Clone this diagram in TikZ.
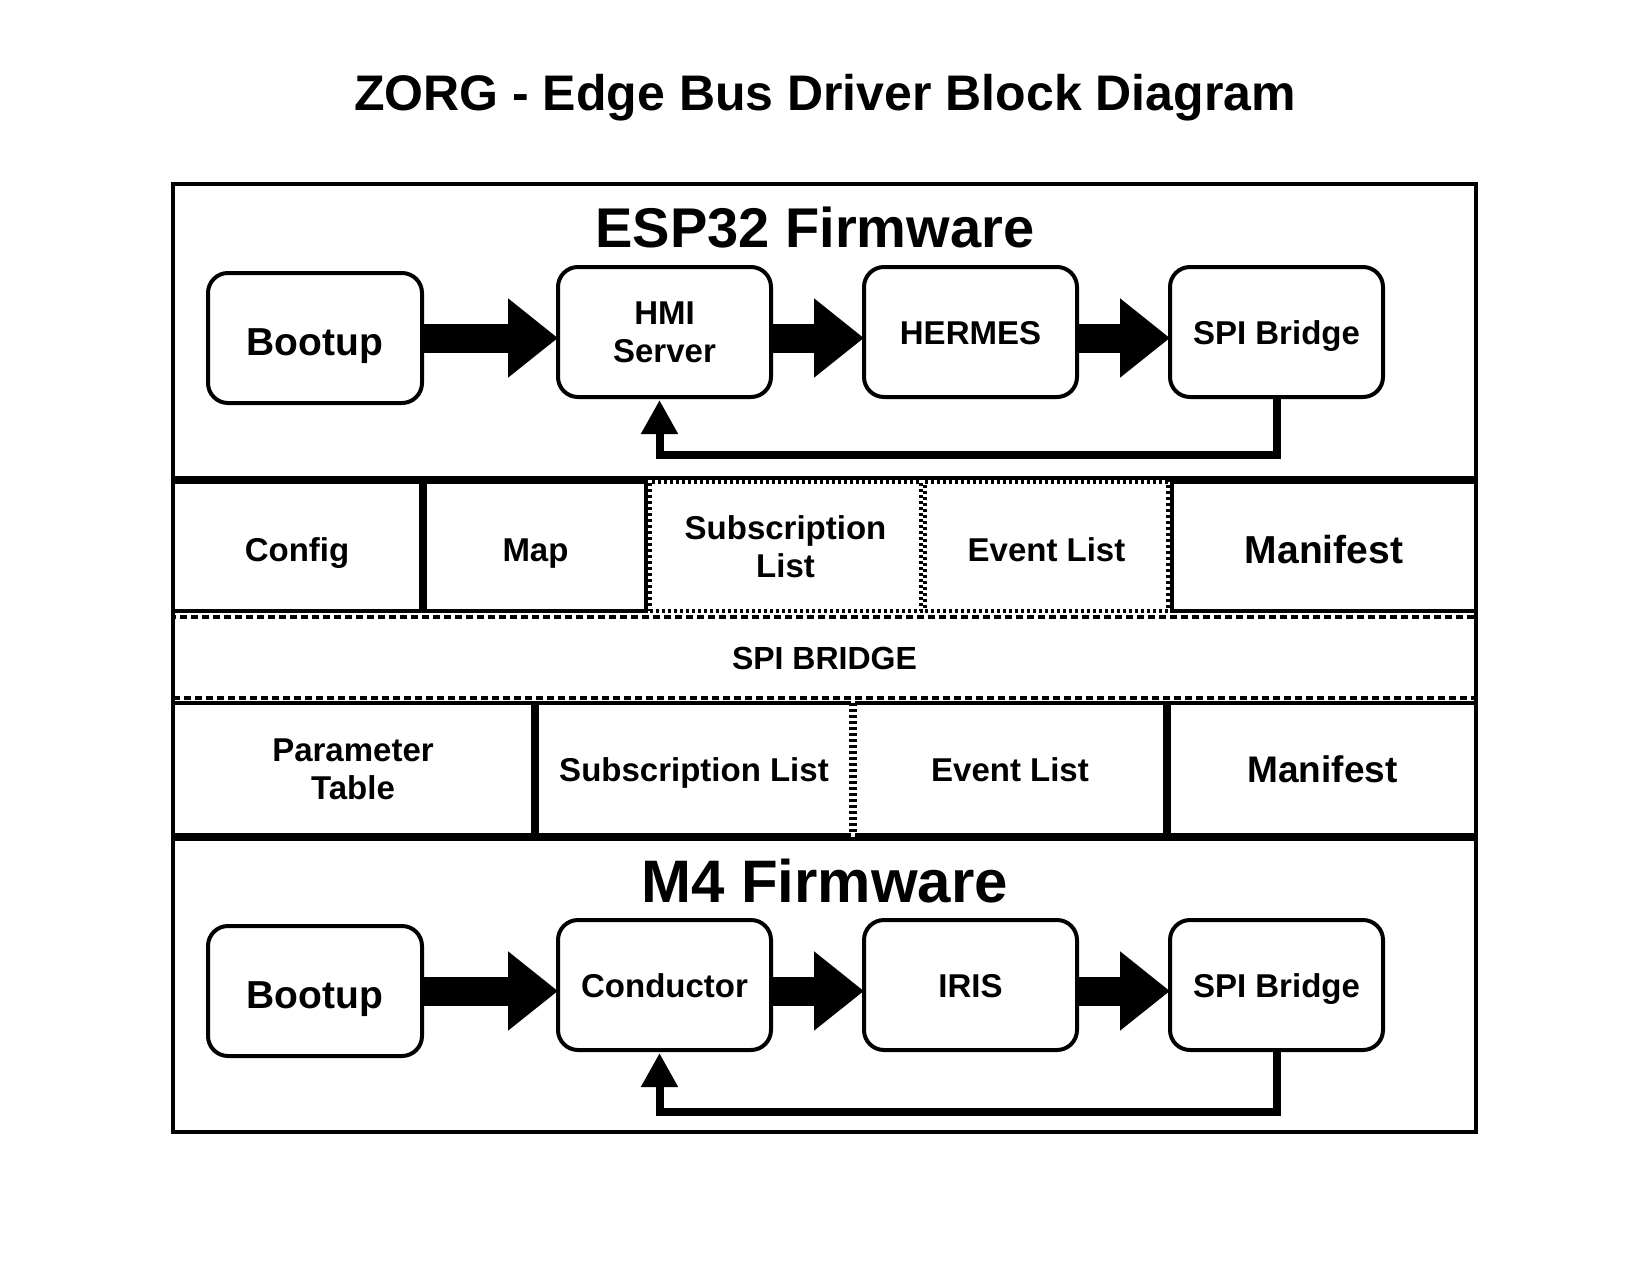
\documentclass[tikz,border=0pt]{standalone}
\usepackage{fontspec}
\setmainfont{Liberation Sans}
\usetikzlibrary{arrows.meta,calc}
\begin{document}
\begin{tikzpicture}[x=1pt,y=-1pt,
  rbox/.style={draw, line width=4pt, rounded corners=20pt, minimum width=213pt, minimum height=130pt, inner sep=0pt, outer sep=0pt, align=center, font=\fontsize{33}{38}\selectfont\bfseries},
  cell/.style={draw, line width=4pt, inner sep=0pt, outer sep=0pt, align=center, font=\fontsize{33}{38}\selectfont\bfseries},
  capa/.style={text height=24pt, text depth=0pt},
  capc/.style={text height=26.5pt, text depth=0pt},
  capd/.style={text height=23pt, text depth=0pt},
  cape/.style={text height=30pt, text depth=0pt},
  capf/.style={text height=34pt, text depth=0pt},
  dotline/.style={dash pattern=on 3pt off 3pt},
  dashline/.style={dash pattern=on 7pt off 4pt},
  bigarrow/.style={line width=29pt, -{Triangle[length=50pt,width=76pt]}},
  fback/.style={line width=8pt, miter limit=10, -{Triangle[length=34pt,width=35pt]}},
  ttl/.style={anchor=base, inner sep=0pt, font=\bfseries}]
\useasboundingbox (0,0) rectangle (1650,1275);
\fill[white] (0,0) rectangle (1650,1275);

% title
\node[ttl, font=\fontsize{50}{60}\selectfont\bfseries] (title) at (825,110) {ZORG - Edge Bus Driver Block Diagram};

% frame and sections
\node[cell, minimum width=1303pt, minimum height=948pt] (frame) at (824.5,658) {};
\node[cell, minimum width=1303pt, minimum height=294pt] (esp) at (824.5,331) {};
\node[cell, minimum width=1303pt, minimum height=293pt] (m4) at (824.5,985.5) {};

\node[ttl, font=\fontsize{56}{64}\selectfont\bfseries] (esptitle) at (815,247) {ESP32 Firmware};
\node[ttl, font=\fontsize{60}{66}\selectfont\bfseries] (m4title) at (824.5,902) {M4 Firmware};

% ESP32 row
\node[rbox, capf, minimum width=214pt, font=\fontsize{39}{44}\selectfont\bfseries] (boot1) at (315,338) {Bootup};
\node[rbox] (hmi) at (664.5,332) {HMI\\Server};
\node[rbox, capa] (hermes) at (970.5,332) {HERMES};
\node[rbox, capa] (spi1) at (1276.5,332) {SPI Bridge};

\draw[bigarrow] (boot1.east) -- (hmi.west |- boot1.east);
\draw[bigarrow] (hmi.east |- boot1.east) -- (hermes.west |- boot1.east);
\draw[bigarrow] (hermes.east |- boot1.east) -- (spi1.west |- boot1.east);
\draw[fback] (spi1.south) -- ++(0,58) -| ($(hmi.south)+(-5,3)$);

% row 2
\node[cell, cape, minimum width=248pt, minimum height=129pt] (config) at (297,546.5) {Config};
\node[cell, cape, minimum width=221pt, minimum height=129pt] (map) at (535.5,546.5) {Map};
\node[cell, dotline, minimum width=271pt, minimum height=129pt] (sub2) at (785.5,546.5) {Subscription\\List};
\node[cell, cape, dotline, minimum width=243pt, minimum height=129pt] (evt2) at (1046.5,546.5) {Event List};
\node[cell, capf, minimum width=304pt, minimum height=129pt, font=\fontsize{39}{44}\selectfont\bfseries] (man2) at (1324,546.5) {Manifest};

% SPI bridge
\node[cell, capd, dashline, minimum width=1303pt, minimum height=81pt, font=\fontsize{32}{38}\selectfont\bfseries] (bridge) at (824.5,657.5) {SPI BRIDGE};

% row 3
\node[cell, minimum width=360pt, minimum height=132pt] (param) at (353,769) {Parameter\\Table};
\node[cell, capa, draw=none, minimum width=314pt, minimum height=132pt] (sub3) at (694,769) {Subscription List};
\draw[line width=4pt] (sub3.north east) -- (sub3.north west) -- (sub3.south west) -- (sub3.south east);
\draw[line width=4pt, dotline] (sub3.north east) -- (sub3.south east);
\node[cell, capa, draw=none, minimum width=310pt, minimum height=132pt] (evt3) at (1010,769) {Event List};
\draw[line width=4pt] (evt3.north west) -- (evt3.north east) -- (evt3.south east) -- (evt3.south west);
\draw[line width=4pt, dotline] (evt3.north west) -- (evt3.south west);
\node[cell, capc, minimum width=307pt, minimum height=132pt, font=\fontsize{37}{42}\selectfont\bfseries] (man3) at (1322.5,769) {Manifest};

% M4 row
\node[rbox, capf, minimum width=214pt, font=\fontsize{39}{44}\selectfont\bfseries] (boot2) at (315,991) {Bootup};
\node[rbox, capa] (cond) at (664.5,985) {Conductor};
\node[rbox, capa] (iris) at (970.5,985) {IRIS};
\node[rbox, capa] (spi2) at (1276.5,985) {SPI Bridge};

\draw[bigarrow] (boot2.east) -- (cond.west |- boot2.east);
\draw[bigarrow] (cond.east |- boot2.east) -- (iris.west |- boot2.east);
\draw[bigarrow] (iris.east |- boot2.east) -- (spi2.west |- boot2.east);
\draw[fback] (spi2.south) -- ++(0,62) -| ($(cond.south)+(-5,3)$);
\end{tikzpicture}
\end{document}
